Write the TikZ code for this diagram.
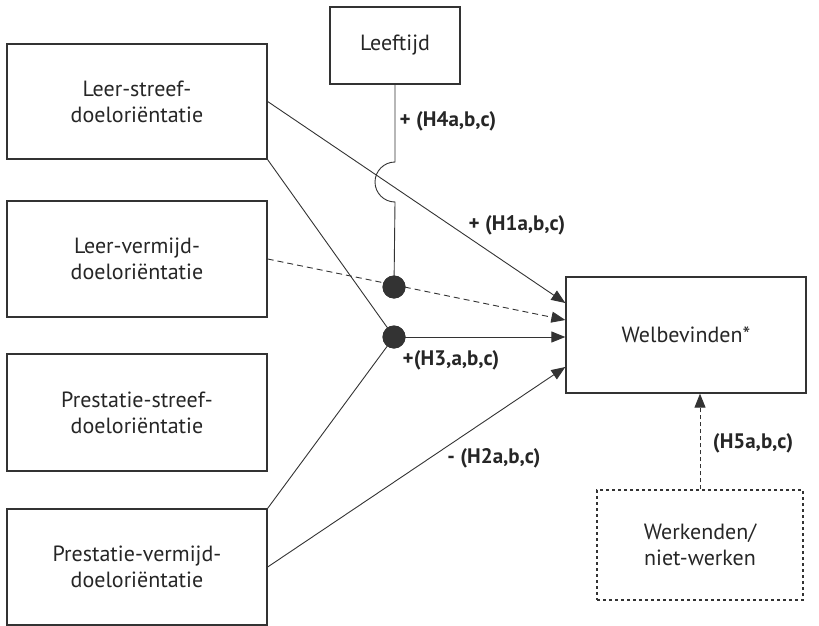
\documentclass[tikz,border=0pt]{standalone}
\usepackage{fontspec}
\setmainfont{PT Sans}
\usetikzlibrary{arrows.meta}

\begin{document}
\begin{tikzpicture}[x=1pt, y=-1pt,
  box/.style={draw, line width=1.3pt, color=black!80, text=black!85, align=center,
    font=\fontsize{22}{26}\selectfont, inner sep=0pt},
  hyp/.style={font=\bfseries\fontsize{21}{24}\selectfont, text=black!85},
  dot/.style={circle, fill=black!80, inner sep=0pt, minimum size=23pt},
  link/.style={line width=0.9pt, color=black!80},
  tip/.style={-{Triangle[length=14pt,width=11pt]}}]
\useasboundingbox (0,0) rectangle (819,626);

\node [box, minimum width=260, minimum height=115] (lss) at (137, 101.5) {Leer-streef-\\doeloriëntatie};
\node [box, minimum width=260, minimum height=116] (lvd) at (137, 259) {Leer-vermijd-\\doeloriëntatie};
\node [box, minimum width=260, minimum height=117] (pss) at (137, 412.5) {Prestatie-streef-\\doeloriëntatie};
\node [box, minimum width=260, minimum height=116] (pvd) at (137, 567) {Prestatie-vermijd-\\doeloriëntatie};
\node [box, minimum width=130, minimum height=77] (lft) at (395, 45.5) {Leeftijd};
\node [box, minimum width=240, minimum height=116] (wb) at (686, 335) {Welbevinden*};
\node [box, dashed, minimum width=206, minimum height=110] (wrk) at (700, 545) {Werkenden/\\niet-werken};

\node [dot] (d1) at (394, 287) {};
\node [dot] (d2) at (394, 337) {};

\coordinate (hopTop) at (395, 162);
\coordinate (hopBot) at (395, 202);

% paden naar welbevinden
\draw [link, tip] (lss.east) -- ([yshift=32pt]wb.west);
\draw [link, tip, dashed, dash pattern=on 6pt off 4pt] (lvd.east) -- ([yshift=15pt]wb.west);
\draw [link, tip] (d2.center) -- (d2 -| wb.west);
\draw [link, tip] (pvd.east) -- ([yshift=-32pt]wb.west);
\draw [link] (lss.south east) -- (d2.center);
\draw [link] (pvd.north east) -- (d2.center);

% moderator leeftijd met sprongetje
\draw [link] (lft.south) -- (hopTop) .. controls (384, 162) and (375, 171) .. (375, 182)
  .. controls (375, 193) and (384, 202) .. (hopBot) -- (d1.center);

\draw [link, tip, dashed, dash pattern=on 4pt off 3pt] (wrk.north) -- (wrk.north |- wb.south);

\node [dot] at (d1) {};
\node [dot] at (d2) {};

\node [hyp] (h4) at (448, 121) {+ (H4a,b,c)};
\node [hyp] (h1) at (517, 225) {+ (H1a,b,c)};
\node [hyp] (h3) at (451, 360) {+(H3,a,b,c)};
\node [hyp] (h2) at (494, 458) {- (H2a,b,c)};
\node [hyp] (h5) at (753, 443) {(H5a,b,c)};
\end{tikzpicture}
\end{document}
